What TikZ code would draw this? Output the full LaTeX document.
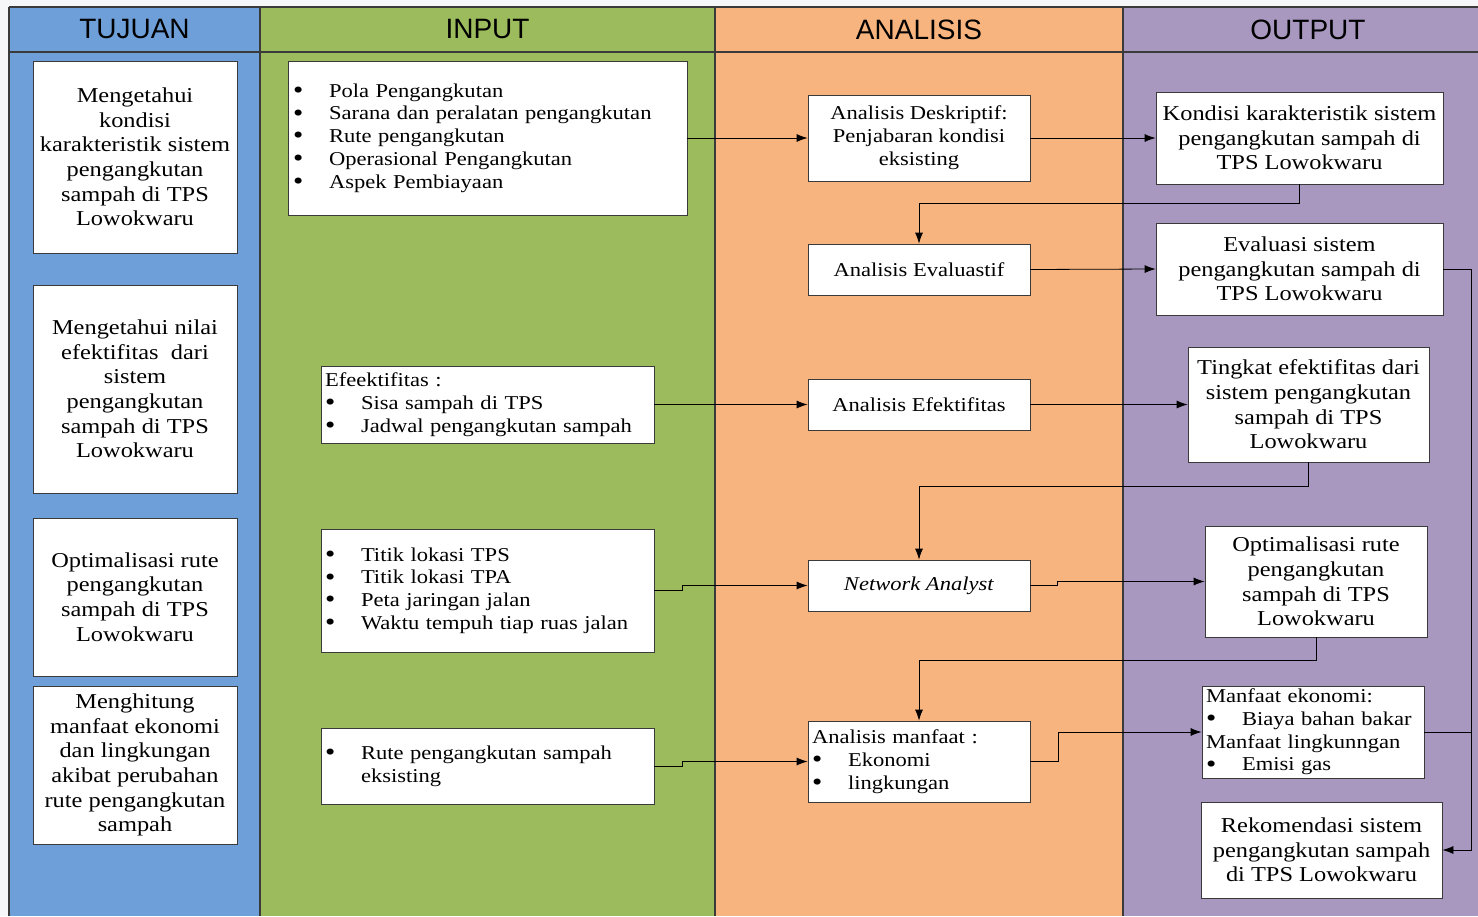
\documentclass[tikz,border=0pt]{standalone}
\usepackage{fontspec}
\setmainfont{Liberation Serif}[FakeStretch=1.15]
\newfontfamily\hdrfont{Liberation Sans}
\usetikzlibrary{arrows.meta}
\definecolor{cblue}{HTML}{6F9FD9}
\definecolor{cgreen}{HTML}{9BBB5C}
\definecolor{corange}{HTML}{F8B47E}
\definecolor{cpurple}{HTML}{A898C0}
\definecolor{cbg}{HTML}{F6F7F8}
\definecolor{cline}{HTML}{3A3A3A}
\newcommand\fA{\fontsize{21.2}{24.6}\selectfont}
\newcommand\fB{\fontsize{19.6}{22.8}\selectfont}
\newcommand\bul[1]{\mbox{\makebox[36pt][l]{\raisebox{-1.2pt}[0pt][0pt]{\scalebox{1.3}{\textbullet}}}#1}}
\begin{document}
\begin{tikzpicture}[x=1pt,y=-1pt,
  hdr/.style={font=\hdrfont\fontsize{28}{32}\selectfont, inner sep=0pt},
  cbox/.style={draw=cline, line width=0.8pt, fill=white, inner sep=2pt, align=center},
  lbox/.style={draw=cline, line width=0.8pt, fill=white, inner ysep=2pt, align=left},
  arr/.style={draw=black, line width=0.8pt, -{Latex[length=11pt,width=8pt]}},
  ln/.style={draw=black, line width=0.8pt},
  sep/.style={draw=cline, line width=1.2pt}]
\useasboundingbox (0,0) rectangle (1478,916);
\fill[cbg] (0,0) rectangle (1478,916);
% columns
\fill[cblue] (9,7) rectangle (260,916);
\fill[cgreen] (260,7) rectangle (715,916);
\fill[corange] (715,7) rectangle (1123,916);
\fill[cpurple] (1123,7) rectangle (1478,916);
\draw[sep] (9,7) -- (1478,7);
\draw[sep] (9,52) -- (1478,52);
\draw[sep] (9,7) -- (9,916);
\draw[sep] (260,7) -- (260,916);
\draw[sep] (715,7) -- (715,916);
\draw[sep] (1123,7) -- (1123,916);
% headers
\node[hdr] (hT) at (134.5,29.5) {TUJUAN};
\node[hdr] (hI) at (487.5,29.5) {INPUT};
\node[hdr] (hA) at (919,29.5) {ANALISIS};
\node[hdr] (hO) at (1308,29.5) {OUTPUT};
% TUJUAN
\node[cbox, font=\fA, minimum width=204pt, minimum height=192pt] (T1) at (135,157)
  {Mengetahui\\kondisi\\karakteristik sistem\\pengangkutan\\sampah di TPS\\Lowokwaru};
\node[cbox, font=\fA, minimum width=204pt, minimum height=208pt] (T2) at (135,389)
  {Mengetahui nilai\\efektifitas\ \ dari\\sistem\\pengangkutan\\sampah di TPS\\Lowokwaru};
\node[cbox, font=\fA, minimum width=204pt, minimum height=158pt] (T3) at (135,597)
  {Optimalisasi rute\\pengangkutan\\sampah di TPS\\Lowokwaru};
\node[cbox, font=\fA, minimum width=204pt, minimum height=158pt] (T4) at (135,765)
  {Menghitung\\manfaat ekonomi\\dan lingkungan\\akibat perubahan\\rute pengangkutan\\sampah};
% INPUT
\node[lbox, font=\fB, inner xsep=5pt, text width=389pt, minimum height=154pt] (I1) at (487.5,138)
  {\bul{Pola Pengangkutan}\\\bul{Sarana dan peralatan pengangkutan}\\\bul{Rute pengangkutan}\\\bul{Operasional Pengangkutan}\\\bul{Aspek Pembiayaan}};
\node[lbox, font=\fB, inner xsep=4pt, text width=325pt, minimum height=77pt] (I2) at (487.5,404.5)
  {\mbox{Efeektifitas :}\\\bul{Sisa sampah di TPS}\\\bul{Jadwal pengangkutan sampah}};
\node[lbox, font=\fB, inner xsep=4pt, text width=325pt, minimum height=123pt] (I3) at (487.5,590.5)
  {\bul{Titik lokasi TPS}\\\bul{Titik lokasi TPA}\\\bul{Peta jaringan jalan}\\\bul{Waktu tempuh tiap ruas jalan}};
\node[lbox, font=\fB, inner xsep=4pt, text width=325pt, minimum height=76pt] (I4) at (487.5,766)
  {\bul{Rute pengangkutan sampah}\\\mbox{\hspace*{36pt}eksisting}};
% ANALISIS
\node[cbox, font=\fB, minimum width=222pt, minimum height=86pt] (A1) at (919,138)
  {Analisis Deskriptif:\\Penjabaran kondisi\\eksisting};
\node[cbox, font=\fB, minimum width=222pt, minimum height=51pt] (A2) at (919,269.5)
  {Analisis Evaluastif};
\node[cbox, font=\fB, minimum width=222pt, minimum height=51pt] (A3) at (919,404.5)
  {Analisis Efektifitas};
\node[cbox, font=\fB, minimum width=222pt, minimum height=51pt] (A4) at (919,585.5)
  {\textit{Network Analyst}};
\node[lbox, font=\fB, inner xsep=4pt, text width=214pt, minimum height=81pt] (A5) at (919,761.5)
  {\mbox{Analisis manfaat :}\\\bul{Ekonomi}\\\bul{lingkungan}};
% OUTPUT
\node[cbox, font=\fA, minimum width=287pt, minimum height=92pt] (O1) at (1299.5,138)
  {Kondisi karakteristik sistem\\pengangkutan sampah di\\TPS Lowokwaru};
\node[cbox, font=\fA, minimum width=287pt, minimum height=92pt] (O2) at (1299.5,269)
  {Evaluasi sistem\\pengangkutan sampah di\\TPS Lowokwaru};
\node[cbox, font=\fA, minimum width=241pt, minimum height=115pt] (O3) at (1308.5,404.5)
  {Tingkat efektifitas dari\\sistem pengangkutan\\sampah di TPS\\Lowokwaru};
\node[cbox, font=\fA, minimum width=222pt, minimum height=111pt] (O4) at (1316,581.5)
  {Optimalisasi rute\\pengangkutan\\sampah di TPS\\Lowokwaru};
\node[lbox, font=\fB, inner xsep=4pt, text width=214pt, minimum height=92pt] (O5) at (1313,732)
  {\mbox{Manfaat ekonomi:}\\\bul{Biaya bahan bakar}\\\mbox{Manfaat lingkunngan}\\\bul{Emisi gas}};
\node[cbox, font=\fA, minimum width=241pt, minimum height=96pt] (O6) at (1321.5,850)
  {Rekomendasi sistem\\pengangkutan sampah\\di TPS Lowokwaru};
% connectors
\coordinate (rx) at (1471,269);
\draw[arr] (I1.east) -- (A1.west);
\draw[arr] (A1.east) -- (O1.west);
\draw[arr] (O1.south) -- ++(0,19) -| (A2.north);
\draw[arr] (A2.east) -- (O2.west);
\draw[arr] (O2.east) -- (rx) |- (O6.east);
\draw[ln] (O5.east) -- (O5.east -| rx);
\draw[arr] (I2.east) -- (A3.west);
\draw[arr] (A3.east) -- (O3.west);
\draw[arr] (O3.south) -- ++(0,24) -| (A4.north);
\draw[arr] (I3.east) -- ++(28,0) |- (A4.west);
\draw[arr] (A4.east) -- ++(27,0) |- (O4.west);
\draw[arr] (O4.south) -- ++(0,23) -| (A5.north);
\draw[arr] (I4.east) -- ++(28,0) |- (A5.west);
\draw[arr] (A5.east) -- ++(28,0) |- (O5.west);
\end{tikzpicture}
\end{document}
